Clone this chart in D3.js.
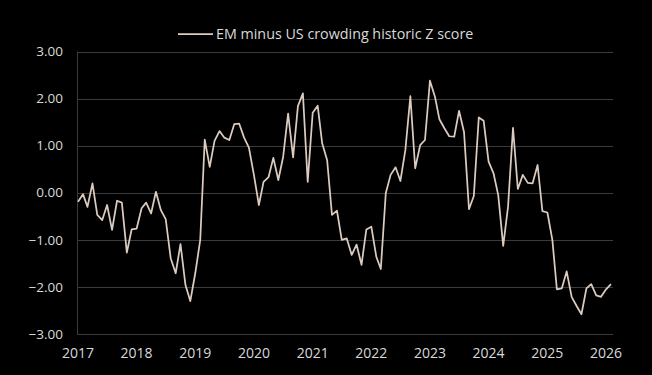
<!DOCTYPE html>
<html>
<head>
<meta charset="utf-8">
<script src="https://cdn.jsdelivr.net/npm/d3@7"></script>
<style>
  html, body { margin: 0; padding: 0; background: #000; }
  svg text { font-family: "Open Sans", "Noto Sans", sans-serif; fill: #d9d9d9; }
</style>
</head>
<body>
<div class="container"></div>
<script>
const WIDTH = 652,
    HEIGHT = 375,
    LEFT = 78,
    RIGHT = 613,
    TOP = 51.5,
    BOTTOM = 334;

const SERIES_NAME = 'EM minus US crowding historic Z score';
const START_MONTH = '2017-01';
const YEAR_TICKS = [2017, 2018, 2019, 2020, 2021, 2022, 2023, 2024, 2025, 2026];
const Y_TICKS = [-3, -2, -1, 0, 1, 2, 3];

// monthly z score, Jan 2017 - Feb 2026
const zScore = [
    -0.19, -0.03, -0.30, 0.20, -0.47, -0.58, -0.26, -0.79, -0.17, -0.21, -1.27, -0.78,
    -0.76, -0.33, -0.21, -0.44, 0.02, -0.37, -0.56, -1.39, -1.71, -1.09, -1.96, -2.30,
    -1.71, -1.00, 1.13, 0.55, 1.10, 1.31, 1.17, 1.12, 1.46, 1.47, 1.17, 0.96,
    0.38, -0.26, 0.23, 0.33, 0.74, 0.27, 0.76, 1.68, 0.75, 1.84, 2.11, 0.23,
    1.70, 1.85, 1.05, 0.69, -0.47, -0.38, -1.00, -0.97, -1.32, -1.10, -1.53, -0.78,
    -0.72, -1.36, -1.62, -0.01, 0.38, 0.54, 0.25, 0.91, 2.05, 0.52, 1.01, 1.12,
    2.38, 2.04, 1.56, 1.37, 1.20, 1.19, 1.74, 1.29, -0.35, -0.07, 1.60, 1.53,
    0.66, 0.41, -0.05, -1.13, -0.30, 1.38, 0.08, 0.38, 0.21, 0.20, 0.59, -0.39,
    -0.42, -1.00, -2.05, -2.03, -1.67, -2.21, -2.40, -2.58, -2.03, -1.94, -2.18, -2.21,
    -2.05, -1.94
];

const parseMonth = d3.timeParse('%Y-%m');
const start = parseMonth(START_MONTH);
const months = zScore.map((v, i) => d3.timeMonth.offset(start, i));
const points = months.map((m, i) => [m, zScore[i]]);

const xScale = d3.scaleTime()
    .domain([months[0], months[months.length - 1]])
    .range([LEFT, 611]);

const yScale = d3.scaleLinear()
    .domain([-3, 3])
    .range([BOTTOM, TOP]);

const svg = d3.select('.container').append('svg')
    .attr('width', WIDTH)
    .attr('height', HEIGHT);

// gridlines
svg.append('g')
    .selectAll('line')
    .data(Y_TICKS)
    .enter().append('line')
    .attr('x1', LEFT - 1)
    .attr('x2', RIGHT)
    .attr('y1', d => Math.round(yScale(d)) + 0.5)
    .attr('y2', d => Math.round(yScale(d)) + 0.5)
    .attr('stroke', '#3b3b3b')
    .attr('stroke-width', 1);

svg.append('line')
    .attr('x1', LEFT - 0.5).attr('x2', LEFT - 0.5)
    .attr('y1', TOP).attr('y2', BOTTOM + 1)
    .attr('stroke', '#3b3b3b');

// y labels
svg.append('g')
    .selectAll('text')
    .data(Y_TICKS)
    .enter().append('text')
    .attr('x', 63)
    .attr('y', d => yScale(d))
    .attr('dy', '0.35em')
    .attr('text-anchor', 'end')
    .style('font-size', '13.5px')
    .text(d => d3.format('.2f')(d));

// x labels
svg.append('g')
    .selectAll('text')
    .data(YEAR_TICKS)
    .enter().append('text')
    .attr('x', d => xScale(new Date(d, 0, 1)))
    .attr('y', 353)
    .attr('dy', '0.35em')
    .attr('text-anchor', 'middle')
    .style('font-size', '14px')
    .text(d => d);

// series line
const line = d3.line()
    .x(d => xScale(d[0]))
    .y(d => yScale(d[1]));

svg.append('path')
    .attr('d', line(points))
    .attr('fill', 'none')
    .attr('stroke', '#dccbbf')
    .attr('stroke-width', 1.75)
    .attr('stroke-linejoin', 'round');

// legend
const legend = svg.append('g');
legend.append('line')
    .attr('x1', 178).attr('x2', 213)
    .attr('y1', 34).attr('y2', 34)
    .attr('stroke', '#dccbbf')
    .attr('stroke-width', 1.75);
legend.append('text')
    .attr('x', 216)
    .attr('y', 34)
    .attr('dy', '0.35em')
    .style('font-size', '14.3px')
    .text(SERIES_NAME);
</script>
</body>
</html>
